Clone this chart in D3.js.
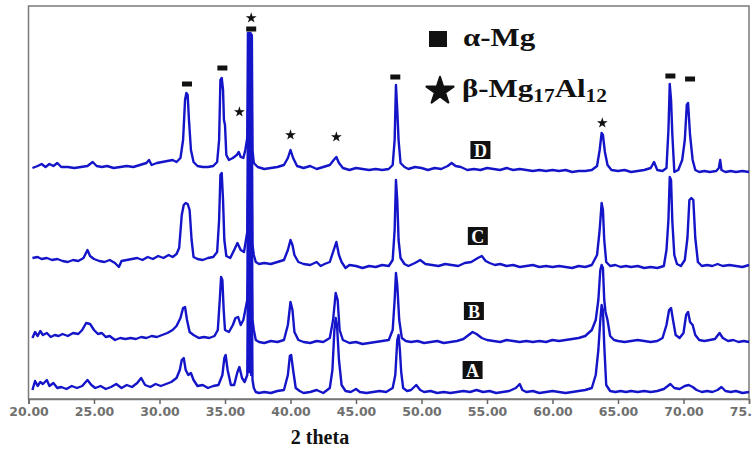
<!DOCTYPE html>
<html><head><meta charset="utf-8">
<script src="https://cdnjs.cloudflare.com/ajax/libs/d3/7.8.5/d3.min.js"></script>
<style>
html,body{margin:0;padding:0;background:#fff;}
svg{display:block;}
</style></head>
<body><svg id="chart" width="752" height="450"></svg>
<script>
// ---- data: 2-theta (deg) vs. stacked intensity (a.u., offsets included) ----
const xTicks = [20,25,30,35,40,45,50,55,60,65,70,75];

const traceD = [[20.3,229],[20.7,231],[21.0,233],[21.3,230],[21.6,233],[21.9,231],[22.2,234],[22.5,230],[23.0,230],[23.5,229],[24.0,230],[24.5,231],[24.9,235],[25.2,231],[25.6,230],[26.0,231],[26.5,229],[27.0,230],[27.5,231],[28.0,230],[28.5,232],[29.0,234],[29.2,237],[29.4,232],[29.8,234],[30.2,235],[30.6,236],[31.0,237],[31.3,235],[31.6,239],[31.8,257],[31.95,297],[32.05,304],[32.15,302],[32.25,277],[32.4,247],[32.6,235],[32.9,231],[33.3,230],[33.7,230],[34.1,231],[34.4,235],[34.55,257],[34.65,317],[34.75,319],[34.85,307],[34.92,277],[35.0,272],[35.1,242],[35.3,237],[35.6,239],[35.9,242],[36.05,245],[36.2,240],[36.4,239],[36.55,247],[36.7,259],[36.75,364],[36.8,257],[36.85,364],[36.9,257],[36.95,364],[37.0,257],[37.05,362],[37.1,247],[37.2,234],[37.5,230],[38.0,228],[38.5,229],[39.0,230],[39.5,232],[39.8,239],[40.0,247],[40.2,239],[40.5,231],[41.0,229],[41.5,231],[42.0,228],[42.5,230],[43.0,232],[43.3,237],[43.5,240],[43.7,234],[44.0,229],[44.5,227],[45.0,229],[45.5,228],[46.0,227],[46.5,228],[47.0,227],[47.5,228],[47.8,232],[47.95,257],[48.05,312],[48.15,287],[48.25,257],[48.4,234],[48.7,230],[49.0,228],[49.5,230],[50.0,229],[50.5,227],[51.0,229],[51.5,228],[52.0,231],[52.3,234],[52.6,231],[53.0,230],[53.5,227],[54.0,228],[54.5,227],[55.0,229],[55.5,228],[56.0,227],[56.5,229],[57.0,227],[57.5,228],[58.0,227],[58.5,226],[59.0,227],[59.5,226],[60.0,227],[60.5,226],[61.0,227],[61.5,225],[62.0,226],[62.5,226],[63.0,227],[63.4,231],[63.6,247],[63.75,264],[63.85,262],[64.0,245],[64.2,232],[64.5,227],[65.0,226],[65.5,227],[66.0,225],[66.5,226],[67.0,227],[67.5,229],[67.75,235],[68.0,227],[68.4,226],[68.7,229],[68.85,267],[68.95,313],[69.05,297],[69.15,262],[69.3,225],[69.6,227],[69.9,237],[70.1,257],[70.25,292],[70.35,294],[70.5,262],[70.7,237],[70.9,227],[71.2,225],[71.6,226],[72.0,225],[72.5,226],[72.7,229],[72.8,237],[72.9,227],[73.2,225],[73.6,226],[74.0,225],[74.5,226],[75.0,225]];

const traceC = [[20.3,139],[20.7,140],[21.0,138],[21.4,139],[21.8,137],[22.2,138],[22.6,136],[23.0,135],[23.4,137],[23.8,136],[24.2,139],[24.5,147],[24.7,141],[25.0,138],[25.4,136],[25.8,135],[26.2,137],[26.6,134],[26.9,130],[27.1,136],[27.5,137],[27.9,138],[28.3,139],[28.7,137],[29.1,140],[29.5,138],[29.9,141],[30.3,139],[30.7,142],[31.0,140],[31.3,143],[31.5,149],[31.7,182],[31.85,192],[32.0,194],[32.15,193],[32.3,187],[32.45,157],[32.6,140],[32.9,138],[33.3,137],[33.7,139],[34.1,140],[34.4,145],[34.55,177],[34.65,222],[34.75,224],[34.85,197],[34.95,157],[35.1,141],[35.4,139],[35.7,147],[35.95,154],[36.2,147],[36.45,145],[36.6,157],[36.7,165],[36.75,287],[36.8,167],[36.85,287],[36.9,167],[36.95,287],[37.0,167],[37.05,285],[37.1,152],[37.2,142],[37.35,135],[37.6,133],[38.0,134],[38.5,133],[39.0,135],[39.5,137],[39.8,147],[40.0,157],[40.15,152],[40.3,142],[40.6,135],[41.0,133],[41.5,132],[42.0,135],[42.3,131],[42.6,133],[43.0,135],[43.3,147],[43.5,155],[43.7,142],[43.9,135],[44.2,129],[44.5,132],[45.0,131],[45.5,129],[46.0,131],[46.5,130],[47.0,132],[47.5,131],[47.8,137],[47.95,167],[48.05,217],[48.15,197],[48.25,157],[48.4,139],[48.7,133],[49.0,131],[49.5,134],[49.9,137],[50.3,133],[50.8,132],[51.3,131],[51.8,133],[52.3,132],[52.8,131],[53.3,134],[53.8,135],[54.3,139],[54.6,141],[54.9,136],[55.2,134],[55.6,132],[56.0,133],[56.5,131],[57.0,132],[57.5,130],[58.0,131],[58.5,132],[59.0,130],[59.5,131],[60.0,130],[60.5,131],[61.0,130],[61.5,129],[62.0,131],[62.5,130],[63.0,132],[63.4,142],[63.6,167],[63.75,194],[63.85,187],[63.95,157],[64.1,135],[64.4,131],[64.8,132],[65.2,130],[65.6,131],[66.0,130],[66.5,131],[67.0,129],[67.5,130],[68.0,129],[68.5,131],[68.7,147],[68.85,177],[68.95,220],[69.05,217],[69.15,175],[69.3,142],[69.5,133],[69.8,131],[70.1,137],[70.3,159],[70.45,197],[70.6,199],[70.75,197],[70.9,159],[71.1,135],[71.4,131],[71.8,132],[72.2,131],[72.6,133],[73.0,131],[73.5,132],[74.0,131],[74.5,130],[75.0,132]];

const traceB = [[20.3,59],[20.5,65],[20.7,61],[20.9,66],[21.1,62],[21.4,64],[21.7,60],[22.0,62],[22.3,61],[22.6,63],[23.0,61],[23.4,64],[23.8,63],[24.1,67],[24.4,74],[24.7,73],[25.0,67],[25.3,63],[25.6,64],[25.9,60],[26.2,61],[26.6,57],[27.0,59],[27.4,58],[27.8,59],[28.2,58],[28.6,60],[29.0,59],[29.4,61],[29.8,60],[30.2,62],[30.6,64],[31.0,67],[31.3,71],[31.6,79],[31.8,89],[31.95,90],[32.1,77],[32.3,65],[32.6,62],[33.0,59],[33.4,60],[33.8,59],[34.2,61],[34.45,67],[34.6,97],[34.7,120],[34.8,117],[34.9,87],[35.0,67],[35.3,65],[35.6,72],[35.8,79],[36.0,80],[36.2,72],[36.4,77],[36.55,87],[36.7,97],[36.75,197],[36.8,97],[36.85,197],[36.9,97],[36.95,197],[37.0,97],[37.05,192],[37.1,77],[37.2,67],[37.35,57],[37.6,55],[38.0,54],[38.5,56],[39.0,55],[39.5,57],[39.8,72],[40.0,95],[40.15,87],[40.3,65],[40.6,57],[41.0,55],[41.5,54],[42.0,56],[42.5,55],[43.0,59],[43.25,77],[43.45,104],[43.6,97],[43.75,67],[44.0,57],[44.5,54],[45.0,55],[45.5,53],[46.0,54],[46.5,55],[47.0,56],[47.5,57],[47.8,67],[47.95,97],[48.05,124],[48.15,112],[48.3,77],[48.5,59],[48.8,56],[49.2,55],[49.7,56],[50.2,54],[50.7,55],[51.2,56],[51.7,54],[52.2,55],[52.7,56],[53.2,58],[53.6,62],[53.9,65],[54.2,63],[54.6,59],[55.0,57],[55.5,56],[56.0,55],[56.5,57],[57.0,56],[57.5,55],[58.0,56],[58.5,55],[59.0,56],[59.5,55],[60.0,57],[60.5,56],[61.0,57],[61.5,58],[62.0,59],[62.5,61],[63.0,67],[63.3,77],[63.5,97],[63.65,127],[63.75,132],[63.85,129],[63.95,97],[64.05,85],[64.2,77],[64.4,61],[64.7,57],[65.0,56],[65.5,55],[66.0,56],[66.5,57],[67.0,56],[67.5,55],[68.0,56],[68.4,59],[68.7,72],[68.9,87],[69.05,89],[69.2,77],[69.4,62],[69.7,59],[70.0,64],[70.2,82],[70.35,85],[70.5,75],[70.7,72],[70.9,62],[71.2,57],[71.6,56],[72.0,57],[72.4,58],[72.75,64],[73.0,59],[73.4,56],[73.8,57],[74.2,55],[74.6,56],[75.0,55]];

const traceA = [[20.3,7],[20.5,16],[20.7,11],[20.9,15],[21.1,13],[21.4,17],[21.6,11],[21.9,14],[22.2,9],[22.5,10],[22.9,8],[23.3,11],[23.7,9],[24.1,11],[24.5,17],[24.8,12],[25.1,9],[25.5,11],[25.9,8],[26.3,10],[26.7,13],[27.1,9],[27.5,12],[27.9,10],[28.3,14],[28.6,19],[28.9,12],[29.3,10],[29.7,13],[30.1,11],[30.5,13],[30.9,15],[31.3,19],[31.55,27],[31.7,37],[31.85,39],[32.0,27],[32.2,22],[32.4,24],[32.6,17],[32.9,11],[33.3,12],[33.7,9],[34.1,11],[34.5,12],[34.8,22],[34.95,39],[35.05,42],[35.2,27],[35.45,12],[35.7,12],[35.95,25],[36.1,30],[36.3,19],[36.5,15],[36.7,22],[36.75,112],[36.8,25],[36.85,112],[36.9,25],[36.95,112],[37.0,22],[37.05,107],[37.1,17],[37.2,9],[37.35,5],[37.6,4],[38.0,5],[38.5,4],[39.0,6],[39.5,7],[39.8,22],[39.95,41],[40.05,42],[40.2,27],[40.4,9],[40.7,6],[41.0,4],[41.5,5],[42.0,7],[42.5,4],[43.0,9],[43.2,27],[43.35,67],[43.45,79],[43.55,72],[43.7,37],[43.9,12],[44.2,6],[44.6,5],[45.0,8],[45.3,5],[45.8,4],[46.3,5],[46.8,6],[47.3,5],[47.8,9],[48.0,22],[48.15,57],[48.25,62],[48.35,47],[48.45,25],[48.6,9],[48.9,6],[49.2,7],[49.6,12],[49.9,7],[50.2,5],[50.7,6],[51.2,4],[51.7,5],[52.2,4],[52.7,5],[53.2,6],[53.7,5],[54.2,7],[54.7,5],[55.2,6],[55.7,4],[56.2,5],[56.7,6],[57.2,9],[57.5,13],[57.7,7],[58.0,5],[58.5,6],[59.0,4],[59.5,5],[60.0,6],[60.5,5],[61.0,4],[61.5,5],[62.0,6],[62.5,7],[63.0,9],[63.3,22],[63.5,47],[63.65,77],[63.75,92],[63.85,87],[63.95,52],[64.1,12],[64.4,6],[64.8,5],[65.2,6],[65.6,5],[66.0,6],[66.5,5],[67.0,6],[67.5,5],[68.0,6],[68.5,8],[68.8,11],[69.0,13],[69.3,9],[69.7,8],[70.1,11],[70.4,12],[70.7,10],[71.0,7],[71.4,5],[71.8,6],[72.2,5],[72.6,7],[72.9,10],[73.2,6],[73.6,5],[74.0,6],[74.5,4],[75.0,5]];

const traceNames = ["A","B","C","D"];
const traceLabelPos = [[53.9,27],[54.0,86],[54.3,161],[54.5,247]];

// phase markers: [2theta, intensity]
const alphaMg = [[32.1,313],[34.8,329],[37.0,368],[48.0,320],[69.0,321],[70.5,318]];
const betaPhase = [[36.1,285],[37.0,379],[40.0,262],[43.5,260],[63.8,274]];

// ---- drawing ----
const svg = d3.select("#chart");
const x = d3.scaleLinear().domain([20,75]).range([28.5,749]);
const y = d3.scaleLinear().domain([0,391]).range([397,6]);

// frame
svg.append("rect").attr("x",28.5).attr("y",6).attr("width",720.5).attr("height",393)
  .attr("fill","none").attr("stroke","#7a7a7a").attr("stroke-width",1.5);

// x axis
const axis = svg.append("g").attr("transform","translate(0,399)")
  .call(d3.axisBottom(x).tickValues(xTicks).tickFormat(d3.format(".2f")).tickSize(5).tickPadding(3));
axis.select(".domain").attr("stroke","#777").attr("stroke-width",1.5);
axis.selectAll(".tick line").attr("stroke","#666").attr("stroke-width",1.5);
axis.selectAll(".tick text").attr("fill","#707070").attr("font-family","DejaVu Sans")
  .attr("font-size",12.5).attr("font-weight","bold");

svg.append("text").attr("x",320).attr("y",444).attr("text-anchor","middle")
  .attr("font-family","Liberation Serif").attr("font-weight","bold").attr("font-size",20)
  .attr("fill","#111").text("2 theta");

// traces
const line = d3.line().x(d=>x(d[0])).y(d=>y(d[1]));
const traces = [traceA, traceB, traceC, traceD];
svg.append("g").selectAll("path").data(traces).join("path")
  .attr("d",line).attr("fill","none").attr("stroke","#1414c8")
  .attr("stroke-width",2.4).attr("stroke-linejoin","round");

// trace labels
const lab = svg.append("g").selectAll("g").data(traceNames).join("g")
  .attr("transform",(d,i)=>`translate(${x(traceLabelPos[i][0])},${y(traceLabelPos[i][1])})`);
lab.append("rect").attr("x",-10).attr("y",-9).attr("width",20).attr("height",18).attr("fill","#111");
lab.append("text").attr("text-anchor","middle").attr("y",6.5)
  .attr("font-family","Liberation Serif").attr("font-weight","bold").attr("font-size",18)
  .attr("fill","#fff").text(d=>d);

// phase markers
svg.append("g").selectAll("rect").data(alphaMg).join("rect")
  .attr("x",d=>x(d[0])-5).attr("y",d=>y(d[1])-2.5).attr("width",10).attr("height",5).attr("fill","#111");
svg.append("g").selectAll("path").data(betaPhase).join("path")
  .attr("d",d3.symbol(d3.symbolStar,36)).attr("fill","#111")
  .attr("transform",d=>`translate(${x(d[0])},${y(d[1])})`);

// legend
const leg = svg.append("g");
leg.append("rect").attr("x",429).attr("y",31).attr("width",18).attr("height",16).attr("fill","#111");
leg.append("text").attr("transform","translate(463,46) scale(1.19,1)")
  .attr("font-family","Liberation Serif").attr("font-weight","bold").attr("font-size",26)
  .attr("fill","#111").text("α-Mg");
leg.append("path").attr("d",d3.symbol(d3.symbolStar,230)).attr("fill","#111")
  .attr("stroke","#111").attr("stroke-width",2).attr("stroke-linejoin","round")
  .attr("transform","translate(440,91)");
const bt = leg.append("text").attr("transform","translate(462,97) scale(1.19,1)")
  .attr("font-family","Liberation Serif").attr("font-weight","bold").attr("font-size",26).attr("fill","#111");
bt.append("tspan").text("β-Mg");
bt.append("tspan").attr("font-size",18).attr("dy",5).text("17");
bt.append("tspan").attr("dy",-5).text("Al");
bt.append("tspan").attr("font-size",18).attr("dy",5).text("12");
</script>
</body></html>
